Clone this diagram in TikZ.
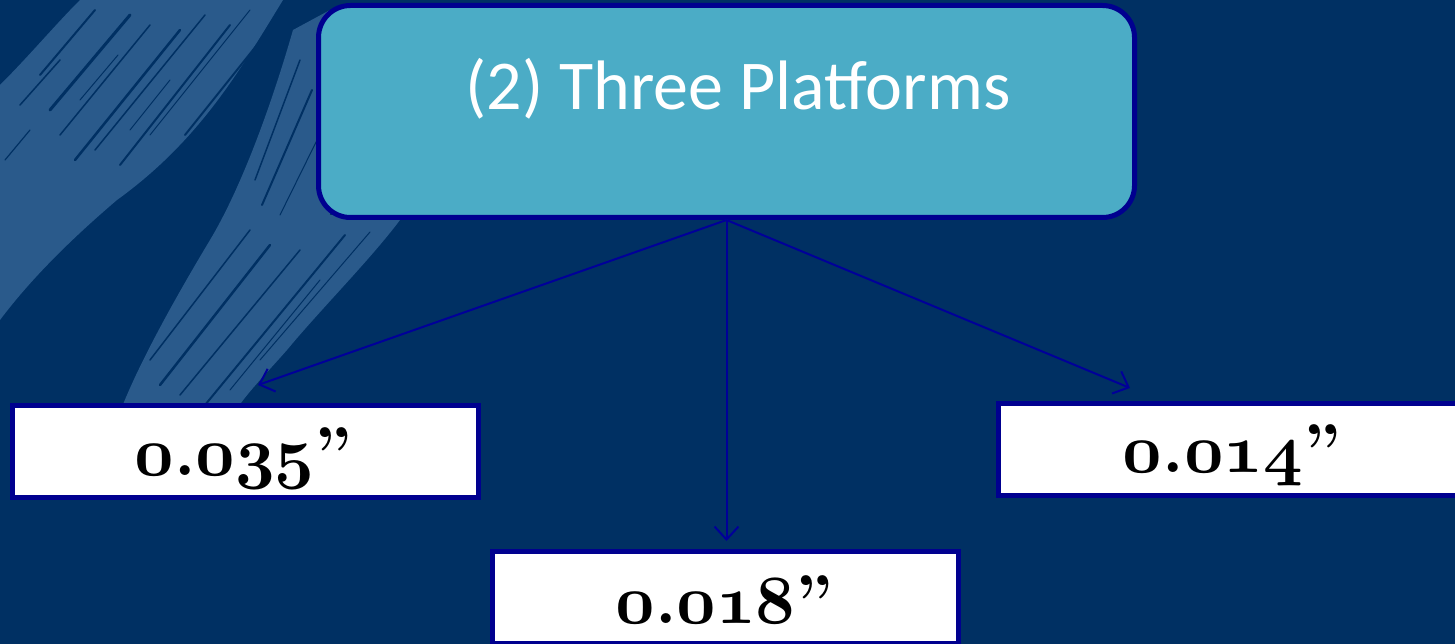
\documentclass[tikz,border=0pt]{standalone}
\usepackage{fontspec}
\newfontfamily\carlito{Carlito}
\usetikzlibrary{arrows.meta}
\definecolor{bg}{HTML}{003063}
\definecolor{brush}{HTML}{2A5A8B}
\definecolor{edgeblue}{HTML}{00008F}
\definecolor{tealfill}{HTML}{4BACC6}
\definecolor{arrowblue}{HTML}{000099}
\DeclareFontFamily{OML}{oldcmm}{\skewchar\font127 }
\DeclareFontShape{OML}{oldcmm}{b}{it}{<->cmmib10}{}
\newcommand\osd[1]{{\usefont{OML}{oldcmm}{b}{it}#1}}
\tikzset{
  mainbox/.style={draw=edgeblue, line width=5pt, fill=tealfill, rounded corners=32pt,
    minimum width=816pt, minimum height=212pt, inner sep=0pt},
  valbox/.style={draw=edgeblue, line width=5pt, fill=white,
    minimum width=466pt, minimum height=92pt, inner sep=0pt},
  titletext/.style={text=white, font=\carlito\fontsize{70pt}{74pt}\selectfont, anchor=base, inner sep=0pt},
  valtext/.style={text=black, font=\fontsize{69pt}{72pt}\selectfont\bfseries, anchor=base, inner sep=0pt},
  link/.style={draw=arrowblue, line width=2pt, -{Straight Barb[length=13pt,width=24pt,line width=2pt]}},
  streak/.style={draw=bg, line cap=round},
}
\begin{document}
\begin{tikzpicture}[x=1pt,y=-1pt]
\useasboundingbox (0,0) rectangle (1455,644);
\clip (0,0) rectangle (1455,644);
\fill[bg] (0,0) rectangle (1455,644);
% brush band 1
\fill[brush] (80,0) -- (283,0) .. controls (240,70) and (200,140) .. (117,200)
  .. controls (70,240) and (30,280) .. (0,320) -- (0,85) .. controls (30,55) and (55,25) .. (80,0) -- cycle;
% brush band 2
\fill[brush] (293,30) -- (330,10) -- (330,215) -- (400,220)
  .. controls (370,260) and (320,310) .. (287,350) .. controls (265,375) and (245,395) .. (235,412)
  -- (120,412) .. controls (140,360) and (180,290) .. (210,240)
  .. controls (240,190) and (270,110) .. (293,30) -- cycle;
% texture streaks band 1
\draw[streak, line width=2pt] (95,10) -- (40,75);
\draw[streak, line width=3pt] (130,15) -- (50,110);
\draw[streak, line width=1.5pt] (150,25) -- (60,135);
\draw[streak, line width=2.5pt] (180,30) -- (75,160);
\draw[streak, line width=1.5pt] (205,15) -- (95,150);
\draw[streak, line width=2pt] (230,25) -- (120,165);
\draw[streak, line width=1pt] (250,10) -- (150,135);
\draw[streak, line width=2pt] (265,35) -- (185,135);
\draw[streak, line width=1pt] (118,55) -- (80,100);
\draw[streak, line width=1.5pt] (60,60) -- (20,105);
\draw[streak, line width=1pt] (170,80) -- (130,130);
\draw[streak, line width=1.2pt] (30,130) -- (5,160);
% texture streaks band 2
\draw[streak, line width=1.5pt] (300,60) -- (255,180);
\draw[streak, line width=2pt] (312,90) -- (262,205);
\draw[streak, line width=1pt] (322,130) -- (280,215);
\draw[streak, line width=2pt] (345,235) -- (205,405);
\draw[streak, line width=1.5pt] (300,250) -- (180,395);
\draw[streak, line width=2.5pt] (270,245) -- (160,385);
\draw[streak, line width=1pt] (370,232) -- (260,360);
\draw[streak, line width=1.5pt] (250,230) -- (150,360);
\draw[streak, line width=1pt] (320,280) -- (230,390);
% boxes
\node[mainbox] (main) at (726.5,111.5) {};
\node[titletext] (title) at (738,110) {(2) Three Platforms};
\node[valbox] (left) at (245.5,451.5) {};
\node[valbox] (mid) at (725,597.5) {};
\node[valbox] (right) at (1231,449.5) {};
\node[valtext] (lefttext) at (243.5,475) {\osd{0}.\osd{035}”};
\node[valtext] (midtext) at (724.5,623) {\osd{0}.\osd{018}”};
\node[valtext] (righttext) at (1232,472) {\osd{0}.\osd{014}”};
% connectors
\coordinate (tl) at (258,385);
\coordinate (tm) at (726.5,541);
\coordinate (tr) at (1130,388);
\draw[link] (main.south) -- (tl);
\draw[link] (main.south) -- (tm);
\draw[link] (main.south) -- (tr);
\end{tikzpicture}
\end{document}
